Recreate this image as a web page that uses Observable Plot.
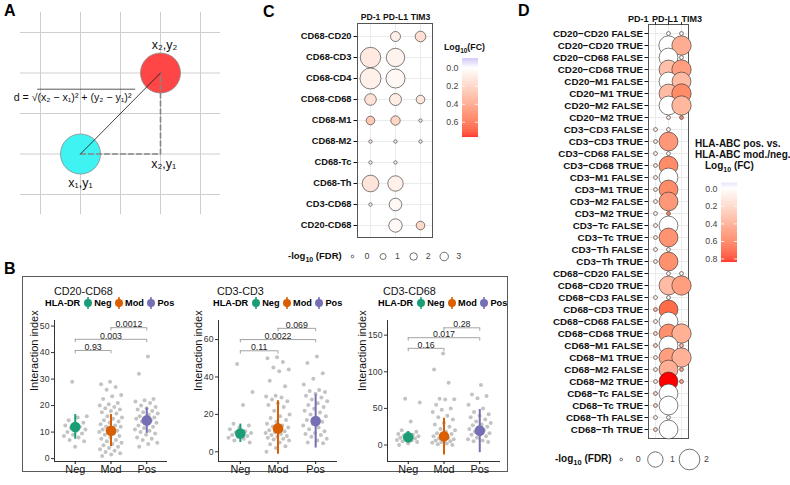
<!DOCTYPE html>
<html><head><meta charset="utf-8">
<script src="https://cdn.jsdelivr.net/npm/d3@7"></script>
<script src="https://cdn.jsdelivr.net/npm/@observablehq/plot@0.6"></script>
<style>
body{margin:0;background:#fff;font-family:'Liberation Sans',Arial,Helvetica,sans-serif;}
#root{position:relative;width:790px;height:485px;overflow:hidden;background:#fff}
</style></head>
<body><div id="root"></div>
<script>
// ---------------- DATA ----------------
// Panel A (schematic, grid units)
const gridTicks = [1, 2, 3, 4, 5];
const cellPoints = [{name: "x₁,y₁", x: 2, y: 2}, {name: "x₂,y₂", x: 4, y: 4}];
const cornerPoint = {name: "x₂,y₁", x: 4, y: 2};
const aLabels = [{t: "x₁,y₁", x: 2.0, y: 1.28}, {t: "x₂,y₂", x: 4.1, y: 4.68}, {t: "x₂,y₁", x: 4.08, y: 1.76}];
const formulaText = "d = √(x₂ − x₁)² + (y₂ − y₁)²";
const formulaPos = {x: 0.33, y: 3.4};
const overlinePos = {x1: 0.93, x2: 3.38, y: 3.6};

// Panel B
const groupLabels = ["Neg", "Mod", "Pos"];
const legendTitle = "HLA-DR";
const bTitles = ["CD20-CD68", "CD3-CD3", "CD3-CD68"];
const yAxisTitle = "Interaction index";

const b1Neg = [29, 16, 15.5, 14.5, 13.5, 13, 12.5, 12, 11.5, 11, 10.5, 10, 9.5, 9, 8.5, 8, 7, 6.5, 4.5];
const b1Mod = [29, 28, 27, 26, 24, 23.5, 22.5, 21, 20.5, 20, 19.5, 19, 18.5, 18, 17.5, 17, 16, 15.5, 15, 14.5, 14, 13.5, 13, 12.5, 12, 12, 11.5, 11, 10.5, 10, 10, 9.5, 9, 8.5, 8, 7.5, 7, 6.5, 6, 5.5, 5, 4.5, 4, 3.5, 3, 2.5, 2, 1.5, 1];
const b1Pos = [38.5, 32, 22.5, 22, 21.5, 21, 20, 19.5, 19, 18.5, 18, 17.5, 17, 16.5, 16, 15.5, 15, 15, 14.5, 14, 13.5, 13, 12.5, 12, 11.5, 11, 10.5, 10, 9.5, 9, 8, 7.5, 7, 6, 5.5, 4.5];
const b1Summary = [{group: "Neg", mean: 11.9, lo: 7.3, hi: 16.6}, {group: "Mod", mean: 10.5, lo: 4.6, hi: 16.6}, {group: "Pos", mean: 14.4, lo: 9.5, hi: 19.1}];
const b1Brackets = [{a: "Neg", b: "Mod", y: 40.8, p: "0.93"}, {a: "Neg", b: "Pos", y: 45, p: "0.003"}, {a: "Mod", b: "Pos", y: 49.4, p: "0.0012"}];
const b1Ticks = [0, 10, 20, 30, 40, 50];

const b2Neg = [47, 32, 25, 15, 14, 13, 12, 11, 10.5, 10, 9.5, 9, 8.5, 8, 7.5, 7, 6, 5];
const b2Mod = [50.5, 50, 48, 45, 44, 43, 38, 35, 30, 29.5, 29, 28, 27, 26, 25, 24, 22, 20, 19, 18, 17, 16, 15, 14, 13.5, 13, 12, 11.5, 11, 10.5, 10, 9.5, 9, 8.5, 8, 7.5, 7, 6.5, 6, 5, 4, 3, 2, 0];
const b2Pos = [51, 47.5, 42, 39, 36, 33, 32.5, 32, 31, 30, 29, 28, 27, 26, 25, 24, 23, 22, 21, 20, 19, 18, 17, 16, 15, 14, 13, 12, 11, 10, 9.5, 9, 8, 7, 6, 5, 4.5];
const b2Summary = [{group: "Neg", mean: 9.8, lo: 5, hi: 14.8}, {group: "Mod", mean: 12.5, lo: -1.3, hi: 27.3}, {group: "Pos", mean: 16.4, lo: 2, hi: 30.5}];
const b2Brackets = [{a: "Neg", b: "Mod", y: 54, p: "0.11"}, {a: "Neg", b: "Pos", y: 60, p: "0.0022"}, {a: "Mod", b: "Pos", y: 66, p: "0.069"}];
const b2Ticks = [0, 20, 40, 60];

const b3Neg = [63, 58, 32, 20, 18, 16, 15, 14, 13, 12, 11, 10, 9, 8, 7, 6, 5, 4, 2, 0];
const b3Mod = [125, 103, 85, 63, 62.5, 62, 55, 50, 48, 45, 40, 38, 35, 30, 28, 25, 22, 20, 18, 16, 15, 14, 12, 10, 9, 8, 7, 6, 5, 4, 3, 2, 1, 0];
const b3Pos = [82, 69, 67, 64, 55, 50, 45, 42, 40, 38, 35, 32, 30, 28, 27, 25, 24, 22, 20, 18, 16, 15, 14, 12, 10, 8, 6, 5, 4];
const b3Summary = [{group: "Neg", mean: 10.5, lo: 3, hi: 18.5}, {group: "Mod", mean: 11.8, lo: -13.7, hi: 36.5}, {group: "Pos", mean: 19.6, lo: -10.5, hi: 48.5}];
const b3Brackets = [{a: "Neg", b: "Mod", y: 132, p: "0.16"}, {a: "Neg", b: "Pos", y: 146.5, p: "0.017"}, {a: "Mod", b: "Pos", y: 160, p: "0.28"}];
const b3Ticks = [0, 50, 100, 150];

// Panel C
const cCols = ["PD-1", "PD-L1", "TIM3"];
const cRows = ["CD68-CD20", "CD68-CD3", "CD68-CD4", "CD68-CD68", "CD68-M1", "CD68-M2", "CD68-Tc", "CD68-Th", "CD3-CD68", "CD20-CD68"];
const cFDR = [[null, 4.7, 5.5], [27.4, 21.6, null], [29.3, 23.3, null], [7.0, 7.6, 3.1], [3.1, 4.0, 0.05], [0.05, 0.05, 0.05], [0.05, 0.05, null], [17.0, 14.2, null], [0.05, 8.6, null], [null, 10.1, 3.1]];
const cFC = [[null, 0.07, 0.13], [0.09, 0.05, null], [0.06, 0.03, null], [0.12, 0.08, 0.1], [0.22, 0.17, 0.08], [0.08, 0.08, 0.08], [0.05, 0.05, null], [0.11, 0.06, null], [0.06, 0.03, null], [null, 0.02, 0.16]];
const cFCTicks = [0.0, 0.2, 0.4, 0.6];
const cFDRLegend = [0, 1, 2, 3];

// Panel D
const dCols = ["PD-1", "PD-L1", "TIM3"];
const dRows = ["CD20−CD20 FALSE", "CD20−CD20 TRUE", "CD20−CD68 FALSE", "CD20−CD68 TRUE", "CD20−M1 FALSE", "CD20−M1 TRUE", "CD20−M2 FALSE", "CD20−M2 TRUE",
  "CD3−CD3 FALSE", "CD3−CD3 TRUE", "CD3−CD68 FALSE", "CD3−CD68 TRUE", "CD3−M1 FALSE", "CD3−M1 TRUE", "CD3−M2 FALSE", "CD3−M2 TRUE",
  "CD3−Tc FALSE", "CD3−Tc TRUE", "CD3−Th FALSE", "CD3−Th TRUE", "CD68−CD20 FALSE", "CD68−CD20 TRUE", "CD68−CD3 FALSE", "CD68−CD3 TRUE",
  "CD68−CD68 FALSE", "CD68−CD68 TRUE", "CD68−M1 FALSE", "CD68−M1 TRUE", "CD68−M2 FALSE", "CD68−M2 TRUE", "CD68−Tc FALSE", "CD68−Tc TRUE",
  "CD68−Th FALSE", "CD68−Th TRUE"];
const dFDR = [[null, 0.01, 0.01], [null, 1.7, 1.7], [null, 1.6, 0.01], [null, 1.6, 1.7], [null, 1.6, 1.6], [null, 1.6, 1.7], [null, 1.6, 1.7], [null, 0.01, 0.01],
  [0.01, 0.01, null], [0.01, 1.6, null], [0.01, 0.01, null], [0.01, 1.6, null], [0.01, 1.6, null], [0.01, 1.6, null], [0.01, 1.6, null], [0.01, 0.01, null],
  [0.01, 1.6, null], [0.01, 1.6, null], [0.01, 0.01, null], [0.01, 1.6, null], [null, 0.01, 0.01], [null, 1.6, 1.7], [0.01, 0.01, null], [0.01, 1.6, null],
  [0.01, 1.6, null], [0.01, 1.6, 1.7], [0.01, 1.6, 0.01], [0.01, 1.6, 1.7], [0.01, 1.6, 0.01], [0.01, 1.6, 0.01], [0.01, 1.6, null], [0.01, 1.6, null],
  [0.01, 0.01, null], [0.01, 1.6, null]];
const dFC = [[null, 0.0, 0.05], [null, 0.0, 0.36], [null, 0.0, 0.05], [null, 0.28, 0.42], [null, 0.0, 0.3], [null, 0.3, 0.5], [null, 0.0, 0.32], [null, 0.1, 0.5],
  [0.05, 0.05, null], [0.1, 0.45, null], [0.05, 0.05, null], [0.1, 0.5, null], [0.05, 0.0, null], [0.1, 0.5, null], [0.05, 0.45, null], [0.05, 0.5, null],
  [0.05, 0.0, null], [0.1, 0.47, null], [0.05, 0.05, null], [0.1, 0.48, null], [null, 0.05, 0.05], [null, 0.3, 0.42], [0.05, 0.05, null], [0.3, 0.62, null],
  [0.05, 0.0, null], [0.2, 0.48, 0.35], [0.2, 0.0, 0.3], [0.1, 0.42, 0.34], [0.1, 0.35, 0.4], [0.1, 0.84, 0.4], [0.2, 0.0, null], [0.2, 0.0, null],
  [0.05, 0.05, null], [0.2, 0.0, null]];
const dFCTicks = [0.0, 0.2, 0.4, 0.6, 0.8];
const dFDRLegend = [0, 1, 2];

// ---------------- STYLE / LAYOUT ----------------
const FONT = "'Liberation Sans', Arial, Helvetica, sans-serif";
const groupColors = ["#1b9e77", "#d95f02", "#7570b3"];
const root = document.getElementById("root");
const baseStyle = {background: "transparent", fontFamily: FONT, overflow: "visible"};

function put(node, left, top) {
  node.style.position = "absolute";
  node.style.left = left + "px";
  node.style.top = top + "px";
  root.appendChild(node);
  return node;
}
function html(str, left, top, css) {
  const d = document.createElement("div");
  d.innerHTML = str;
  d.style.cssText = "white-space:nowrap;font-family:" + FONT + ";" + (css || "");
  return put(d, left, top);
}

// panel letters
html("A", 4, 3, "font-weight:bold;font-size:16px;line-height:16px");
html("B", 4, 261, "font-weight:bold;font-size:16px;line-height:16px");
html("C", 263, 4, "font-weight:bold;font-size:16px;line-height:16px");
html("D", 518, 3, "font-weight:bold;font-size:16px;line-height:16px");

// ---------------- PANEL A ----------------
const plotA = Plot.plot({
  width: 222, height: 225, margin: 0, style: baseStyle,
  x: {domain: [1, 5], range: [40, 200], axis: null},
  y: {domain: [1, 5], range: [194, 32], axis: null},
  marks: [
    Plot.ruleX(gridTicks, {x: d => d, y1: 0.5, y2: 5.5, stroke: "#cfcfcf", strokeWidth: 1}),
    Plot.ruleY(gridTicks, {y: d => d, x1: 0.5, x2: 5.5, stroke: "#cfcfcf", strokeWidth: 1}),
    Plot.dot([cellPoints[0]], {x: "x", y: "y", r: 20, fill: "#3ff3f3", stroke: "#8a8a8a", strokeWidth: 0.8}),
    Plot.dot([cellPoints[1]], {x: "x", y: "y", r: 20, fill: "#ff4646", stroke: "#8a8a8a", strokeWidth: 0.8}),
    Plot.line([cellPoints[0], cornerPoint, cellPoints[1]], {x: "x", y: "y", stroke: "#858585", strokeWidth: 1.6, strokeDasharray: "5,3"}),
    Plot.line(cellPoints, {x: "x", y: "y", stroke: "#111", strokeWidth: 0.8}),
    Plot.text(aLabels, {x: "x", y: "y", text: "t", fontSize: 12.5, fill: "#111"}),
    Plot.text([formulaPos], {x: "x", y: "y", text: () => formulaText, textAnchor: "start", fontSize: 10.6, fill: "#111"}),
    Plot.ruleY([overlinePos], {x1: "x1", x2: "x2", y: "y", stroke: "#111", strokeWidth: 0.7})
  ]
});
put(plotA, 0, 0);

// ---------------- PANEL B ----------------
const boxB = document.createElement("div");
boxB.style.cssText = "width:486px;height:196px;border:1.5px solid #5a5a5a;box-sizing:border-box";
put(boxB, 22, 276);

const jit = (i, w) => (((i * 0.6180339887 + 0.37) % 1) - 0.5) * 2 * w;
const gIndex = g => groupLabels.indexOf(g) + 1;

function panelB(lists, summary, brackets, ticks, cfg) {
  const pts = lists.flatMap((vals, gi) => vals.map((v, i) => ({g: gi + 1, v, j: jit(i + gi * 5, 0.33)})));
  const xd = [0.42, 3.58];
  const leg = (cfg.ydom[1] - cfg.ydom[0]) * 0.024;
  const legs = brackets.flatMap(b => [{x: gIndex(b.a), y: b.y}, {x: gIndex(b.b), y: b.y}]);
  return Plot.plot({
    width: cfg.width, height: 165, marginLeft: cfg.marginLeft, marginRight: 8, marginTop: 8, marginBottom: 16,
    style: baseStyle,
    x: {domain: xd},
    y: {domain: cfg.ydom},
    color: {type: "ordinal", domain: groupLabels, range: groupColors},
    marks: [
      Plot.ruleY([cfg.ydom[0]], {y: d => d, stroke: "#333", strokeWidth: 1}),
      Plot.ruleX([xd[0]], {x: d => d, stroke: "#333", strokeWidth: 1}),
      Plot.axisY({ticks, tickSize: 3, tickPadding: 2, fontSize: 8.7, color: "#333", label: null}),
      Plot.axisX({ticks: [1, 2, 3], tickFormat: d => groupLabels[d - 1], tickSize: 3, tickPadding: 1, fontSize: 10.8, color: "#111", label: null}),
      Plot.dot(pts, {x: d => d.g + d.j, y: "v", r: 2, fill: "#c3c3c3"}),
      Plot.ruleX(summary, {x: d => gIndex(d.group), y1: "lo", y2: "hi", stroke: "group", strokeWidth: 2}),
      Plot.dot(summary, {x: d => gIndex(d.group), y: "mean", r: 5.3, fill: "group"}),
      Plot.ruleY(brackets, {x1: d => gIndex(d.a), x2: d => gIndex(d.b), y: "y", stroke: "#a3a3a3", strokeWidth: 1}),
      Plot.ruleX(legs, {x: "x", y1: "y", y2: d => d.y - leg, stroke: "#a3a3a3", strokeWidth: 1}),
      Plot.text(brackets, {x: d => (gIndex(d.a) + gIndex(d.b)) / 2, y: "y", text: "p", lineAnchor: "bottom", dy: -0.5, fontSize: 8.8, fill: "#222"}),
      Plot.text([yAxisTitle], {text: d => d, frameAnchor: "left", rotate: -90, dx: cfg.labelDx, fontSize: 11, fill: "#111"})
    ]
  });
}

function bLegend(left) {
  let h = `<span style="margin-right:3px">${legendTitle}</span>`;
  groupLabels.forEach((g, i) => {
    h += `<svg width="10" height="12" style="display:block"><line x1="5" x2="5" y1="0" y2="12" stroke="${groupColors[i]}" stroke-width="1.6"/><circle cx="5" cy="6" r="4" fill="${groupColors[i]}"/></svg><span style="margin:0 2.5px 0 1px">${g}</span>`;
  });
  html(h, left, 297, "display:flex;align-items:center;font-weight:bold;font-size:9.2px;line-height:12px;height:12px");
}

const bCfgs = [
  {left: 25, width: 150, marginLeft: 29, ydom: [-1.1, 52.1], labelDx: -20, titleX: 54, legendX: 45},
  {left: 185, width: 160, marginLeft: 33, ydom: [-5.2, 70.2], labelDx: -20, titleX: 217, legendX: 213},
  {left: 355, width: 153, marginLeft: 32, ydom: [-22.5, 170], labelDx: -25, titleX: 383, legendX: 378}
];
const bData = [
  [[b1Neg, b1Mod, b1Pos], b1Summary, b1Brackets, b1Ticks],
  [[b2Neg, b2Mod, b2Pos], b2Summary, b2Brackets, b2Ticks],
  [[b3Neg, b3Mod, b3Pos], b3Summary, b3Brackets, b3Ticks]
];
bData.forEach((d, k) => {
  const cfg = bCfgs[k];
  put(panelB(d[0], d[1], d[2], d[3], cfg), cfg.left, 312);
  html(bTitles[k], cfg.titleX, 285, "font-size:10.8px;line-height:12px;color:#111");
  bLegend(cfg.legendX);
});

// ---------------- PANEL C ----------------
const cCells = cRows.flatMap((row, i) => cCols.map((col, j) => ({row, col, fdr: cFDR[i][j], fc: cFC[i][j]}))).filter(d => d.fdr != null);
const cColor = {type: "linear", domain: [-0.11, 0, 0.77], range: ["#c9b8f6", "#ffffff", "#ff0000"], interpolate: "lab"};
const cR = {type: "sqrt", domain: [0, 1], range: [1.3, 3.0]};

const plotC = Plot.plot({
  width: 175, height: 245, marginLeft: 92, marginRight: 8, marginTop: 23, marginBottom: 8,
  style: baseStyle,
  x: {type: "point", domain: cCols, padding: 0.5},
  y: {type: "point", domain: cRows, padding: 0.5},
  r: cR, color: cColor,
  marks: [
    Plot.ruleX(cCols, {x: d => d, stroke: "#ebebeb"}),
    Plot.ruleY(cRows, {y: d => d, stroke: "#ebebeb"}),
    Plot.frame({stroke: "#555"}),
    Plot.axisY({tickSize: 3.5, tickPadding: 2.5, fontSize: 9.3, fontWeight: "bold", color: "#111", label: null}),
    Plot.axisX({anchor: "top", tickSize: 0, tickPadding: 4, fontSize: 8.6, fontWeight: "bold", color: "#111", label: null}),
    Plot.dot(cCells, {x: "col", y: "row", r: "fdr", fill: "fc", stroke: "#2a2a2a", strokeWidth: 0.6, sort: null})
  ]
});
put(plotC, 265, 0);

function colorbar(colorScale, ticks, w, h, ml, mt) {
  const [lo, , hi] = colorScale.domain;
  const steps = d3.range(lo, hi, (hi - lo) / 120);
  const dv = (hi - lo) / 120;
  return Plot.plot({
    width: w, height: h, marginLeft: ml, marginRight: w - ml - 16, marginTop: mt, marginBottom: 3,
    style: baseStyle,
    x: {domain: [0, 1], axis: null},
    y: {domain: [lo, hi], reverse: true},
    color: colorScale,
    marks: [
      Plot.rect(steps, {x1: 0, x2: 1, y1: d => d, y2: d => d + dv * 1.05, fill: d => d + dv / 2}),
      Plot.ruleY(ticks, {y: d => d, x1: 0, x2: 0.2, stroke: "white", strokeWidth: 0.8}),
      Plot.ruleY(ticks, {y: d => d, x1: 0.8, x2: 1, stroke: "white", strokeWidth: 0.8}),
      Plot.axisY({ticks, tickFormat: d3.format(".1f"), tickSize: 0, tickPadding: 4, fontSize: 8.8, color: "#444", label: null})
    ]
  });
}
put(colorbar(cColor, cFCTicks, 45, 85, 22, 3), 440, 55);
html("Log<sub style='font-size:6.5px'>10</sub>(FC)", 444, 42, "font-weight:bold;font-size:8.8px;line-height:11px;color:#111");

// size legend C
html("-log<sub style='font-size:7px'>10</sub> (FDR)", 288, 250, "font-weight:bold;font-size:9.5px;line-height:12px;color:#111");
const legC = Plot.plot({
  width: 125, height: 22, margin: 0, style: baseStyle,
  x: {domain: [0, 3], range: [7, 98.7], axis: null},
  r: cR,
  marks: [
    Plot.dot(cFDRLegend, {x: d => d, r: d => d, fill: "white", stroke: "#333", strokeWidth: 0.7}),
    Plot.text(cFDRLegend, {x: d => d, text: d => String(d), dx: 14.5, fontSize: 8.8, fill: "#444"})
  ]
});
put(legC, 345, 245);

// ---------------- PANEL D ----------------
const dCells = dRows.flatMap((row, i) => dCols.map((col, j) => ({row, col, fdr: dFDR[i][j], fc: dFC[i][j]}))).filter(d => d.fdr != null);
const dColor = {type: "linear", domain: [-0.064, 0, 0.84], range: ["#e4ddfb", "#ffffff", "#ff0000"], interpolate: "lab"};
const dR = {type: "sqrt", domain: [0, 1], range: [1.3, 7.7]};
const headerAnchors = [{col: "PD-1", anchor: "end", dx: -7}, {col: "PD-L1", anchor: "middle", dx: -3.5}, {col: "TIM3", anchor: "start", dx: 0}];

const plotD = Plot.plot({
  width: 190, height: 445, marginLeft: 128, marginRight: 22, marginTop: 24, marginBottom: 7,
  style: baseStyle,
  x: {type: "point", domain: dCols, padding: 0.5},
  y: {type: "point", domain: dRows, padding: 0.6},
  r: dR, color: dColor,
  marks: [
    Plot.ruleX(dCols, {x: d => d, stroke: "#ebebeb"}),
    Plot.ruleY(dRows, {y: d => d, stroke: "#ebebeb"}),
    Plot.frame({stroke: "#555"}),
    Plot.axisY({tickSize: 3.5, tickPadding: 2, fontSize: 9.8, fontWeight: "bold", color: "#111", label: null}),
    Plot.axisX({anchor: "top", tickSize: 3, tickFormat: () => "", color: "#333", label: null}),
    ...headerAnchors.map(h => Plot.text([h.col], {x: d => d, text: d => d, frameAnchor: "top", dy: -9, dx: h.dx, textAnchor: h.anchor, fontSize: 9, fontWeight: "bold", fill: "#111"})),
    Plot.dot(dCells, {x: "col", y: "row", r: "fdr", fill: "fc", stroke: "#2a2a2a", strokeWidth: 0.6, sort: null})
  ]
});
put(plotD, 520, 0);

html("HLA-ABC pos. vs.", 695, 138, "font-weight:bold;font-size:10px;line-height:12px;color:#111");
html("HLA-ABC mod./neg.", 695, 149, "font-weight:bold;font-size:10px;line-height:12px;color:#111");
html("Log<sub style='font-size:7px'>10</sub> (FC)", 705, 160, "font-weight:bold;font-size:10px;line-height:12px;color:#111");
put(colorbar(dColor, dFCTicks, 45, 86, 24, 3.7), 697, 179);

// size legend D
html("-log<sub style='font-size:7.5px'>10</sub> (FDR)", 555, 452, "font-weight:bold;font-size:10px;line-height:13px;color:#111");
const legD = Plot.plot({
  width: 120, height: 28, margin: 0, style: baseStyle,
  x: {domain: [0, 2], range: [20.7, 89], axis: null},
  r: dR,
  marks: [
    Plot.dot(dFDRLegend, {x: d => d, r: d => d, fill: "white", stroke: "#333", strokeWidth: 0.7}),
    Plot.text(dFDRLegend, {x: d => d, text: d => String(d), dx: 17, fontSize: 8.8, fill: "#444"})
  ]
});
put(legD, 600, 445);
</script>
</body></html>
